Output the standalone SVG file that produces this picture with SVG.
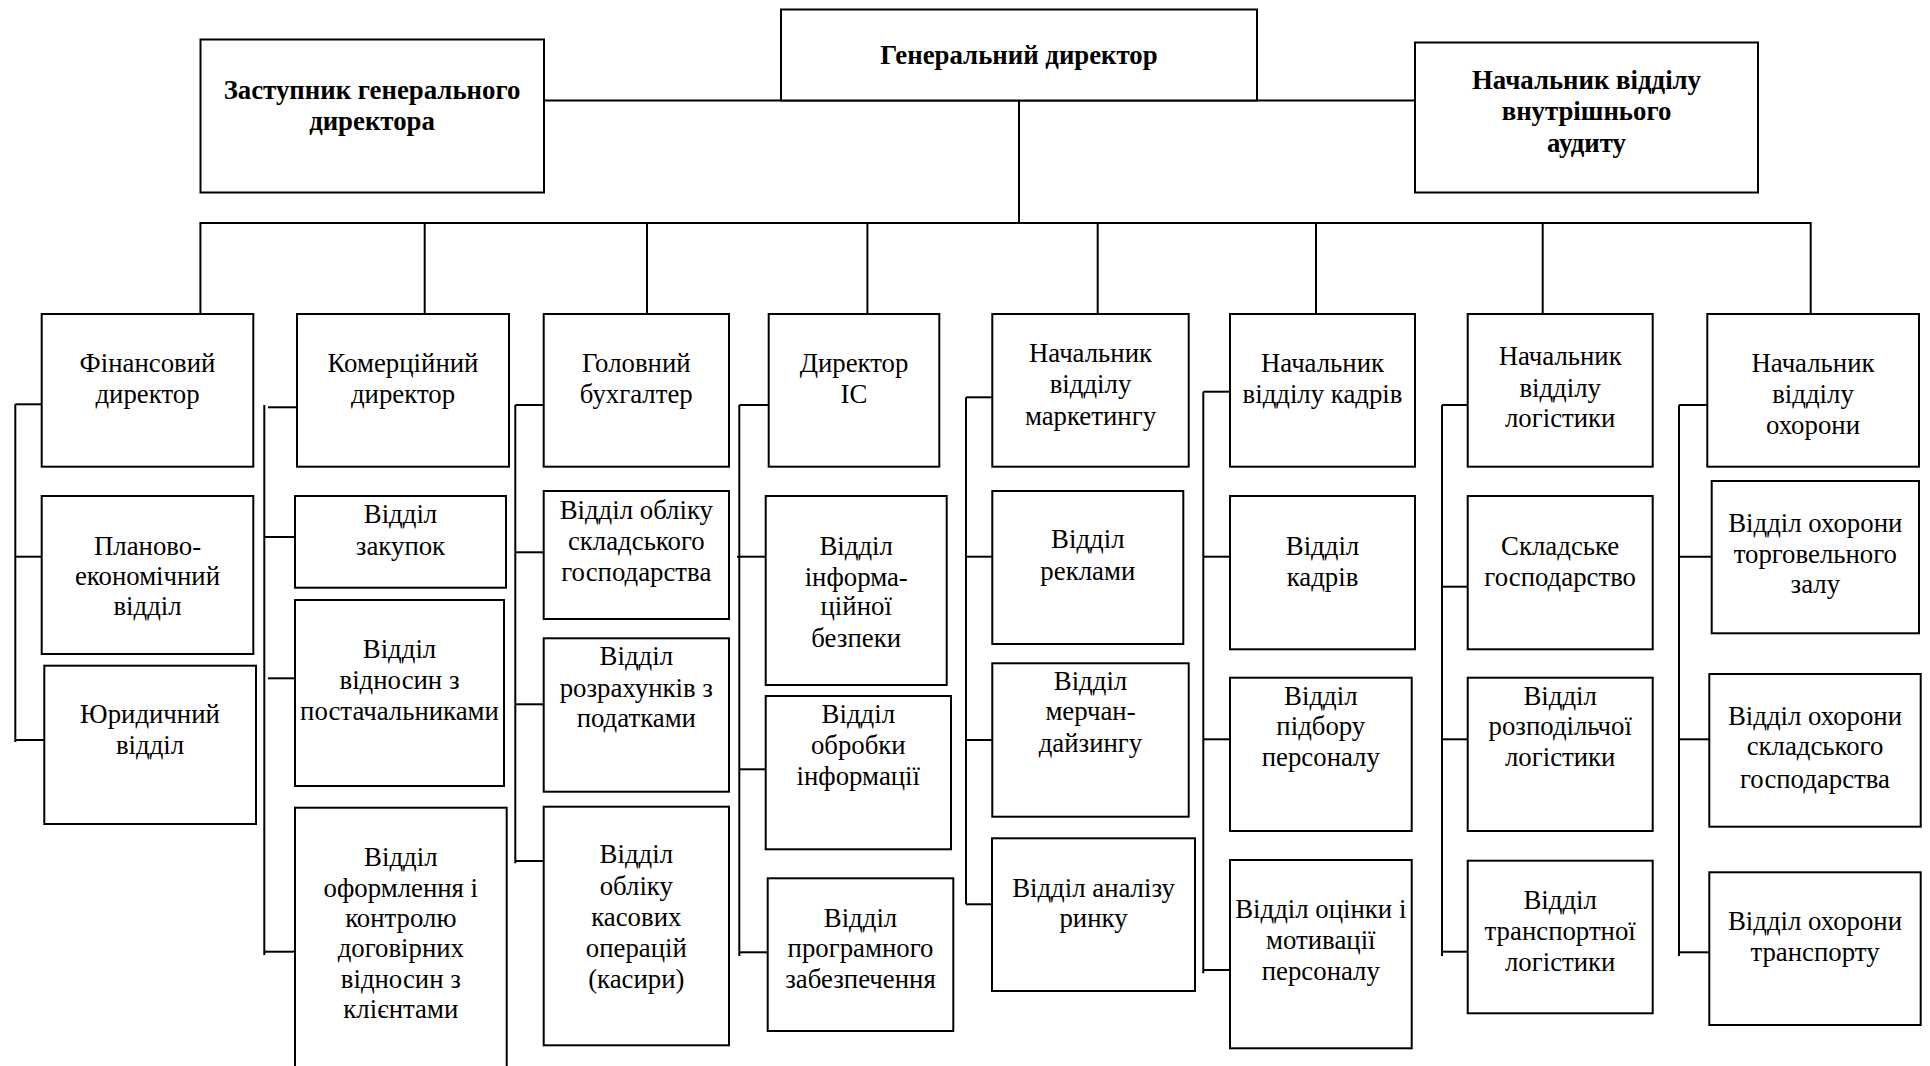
<svg xmlns="http://www.w3.org/2000/svg" width="1930" height="1066" viewBox="0 0 1930 1066">
<style>
rect.b{fill:#fff;stroke:#000;stroke-width:2}
line{stroke:#000;stroke-width:2}
text{font-family:"Liberation Serif","Times New Roman",serif;font-size:26.8px;text-anchor:middle;fill:#000}
text.h{font-weight:bold}
</style>
<rect width="1930" height="1066" fill="#fff"/>
<g id="connectors">
<line x1="544" y1="100.5" x2="1415" y2="100.5"/>
<line x1="1019" y1="100.5" x2="1019" y2="223"/>
<line x1="200.4" y1="223" x2="1810.7" y2="223"/>
<line x1="200.4" y1="222" x2="200.4" y2="314"/>
<line x1="424.7" y1="223" x2="424.7" y2="314"/>
<line x1="647" y1="223" x2="647" y2="314"/>
<line x1="867.4" y1="223" x2="867.4" y2="314"/>
<line x1="1097.7" y1="223" x2="1097.7" y2="314"/>
<line x1="1316" y1="223" x2="1316" y2="314"/>
<line x1="1542.7" y1="223" x2="1542.7" y2="314"/>
<line x1="1810.7" y1="222" x2="1810.7" y2="314"/>
<line x1="15.3" y1="404.3" x2="15.3" y2="742"/>
<line x1="15.3" y1="404.3" x2="41.7" y2="404.3"/>
<line x1="15.3" y1="556.7" x2="41.7" y2="556.7"/>
<line x1="15.3" y1="740" x2="44.3" y2="740"/>
<line x1="264.3" y1="405" x2="264.3" y2="955"/>
<line x1="268" y1="407.3" x2="297" y2="407.3"/>
<line x1="264.3" y1="537" x2="295" y2="537"/>
<line x1="268" y1="678.3" x2="295" y2="678.3"/>
<line x1="264.3" y1="951.7" x2="295" y2="951.7"/>
<line x1="515.3" y1="405" x2="515.3" y2="863.3"/>
<line x1="515.3" y1="405" x2="543.7" y2="405"/>
<line x1="515.3" y1="552.3" x2="543.7" y2="552.3"/>
<line x1="515.3" y1="704.3" x2="543.7" y2="704.3"/>
<line x1="515.3" y1="861" x2="543.7" y2="861"/>
<line x1="739.3" y1="405" x2="739.3" y2="956"/>
<line x1="739.3" y1="405" x2="768.7" y2="405"/>
<line x1="737" y1="556.7" x2="765.7" y2="556.7"/>
<line x1="739.3" y1="769.3" x2="765.7" y2="769.3"/>
<line x1="739.3" y1="952.3" x2="767.7" y2="952.3"/>
<line x1="966" y1="397.3" x2="966" y2="904.3"/>
<line x1="966" y1="397.3" x2="992.3" y2="397.3"/>
<line x1="966" y1="556.7" x2="992.3" y2="556.7"/>
<line x1="966" y1="740" x2="992.3" y2="740"/>
<line x1="966" y1="904.3" x2="992.3" y2="904.3"/>
<line x1="1203.3" y1="391.7" x2="1203.3" y2="973.3"/>
<line x1="1203.3" y1="391.7" x2="1230" y2="391.7"/>
<line x1="1203.3" y1="556.7" x2="1230" y2="556.7"/>
<line x1="1203.3" y1="739.3" x2="1230" y2="739.3"/>
<line x1="1203.3" y1="970" x2="1230" y2="970"/>
<line x1="1442" y1="405" x2="1442" y2="956"/>
<line x1="1442" y1="405" x2="1467.7" y2="405"/>
<line x1="1442" y1="586.7" x2="1467.7" y2="586.7"/>
<line x1="1442" y1="739.3" x2="1467.7" y2="739.3"/>
<line x1="1442" y1="951.7" x2="1467.7" y2="951.7"/>
<line x1="1679" y1="405" x2="1679" y2="956"/>
<line x1="1679" y1="405" x2="1707.3" y2="405"/>
<line x1="1679" y1="556.7" x2="1711.7" y2="556.7"/>
<line x1="1679" y1="739.3" x2="1709.3" y2="739.3"/>
<line x1="1679" y1="952.3" x2="1709.3" y2="952.3"/>
</g>
<g id="gd"><rect class="b" x="781" y="9.5" width="476" height="91"/><text class="h" x="1019" y="64">Генеральний директор</text></g>
<g id="zast"><rect class="b" x="200.5" y="39.5" width="343.5" height="153"/><text class="h" x="372"><tspan x="372" y="99">Заступник генерального</tspan><tspan x="372" y="130">директора</tspan></text></g>
<g id="audit"><rect class="b" x="1415" y="42.5" width="343" height="150"/><text class="h"><tspan x="1586.5" y="89">Начальник відділу</tspan><tspan x="1586.5" y="120">внутрішнього</tspan><tspan x="1586.5" y="151.7">аудиту</tspan></text></g>

<g id="fin"><rect class="b" x="41.7" y="314" width="211.6" height="152.7"/><text><tspan x="147.5" y="371.7">Фінансовий</tspan><tspan x="147.5" y="403.3">директор</tspan></text></g>
<g id="plan"><rect class="b" x="41.7" y="496" width="211.6" height="158"/><text><tspan x="147.5" y="555">Планово-</tspan><tspan x="147.5" y="585">економічний</tspan><tspan x="147.5" y="615">відділ</tspan></text></g>
<g id="yur"><rect class="b" x="44.3" y="665.7" width="211.7" height="158.3"/><text><tspan x="150" y="723.3">Юридичний</tspan><tspan x="150" y="754.3">відділ</tspan></text></g>

<g id="kom"><rect class="b" x="297" y="314" width="212" height="152.7"/><text><tspan x="403" y="371.7">Комерційний</tspan><tspan x="403" y="403.3">директор</tspan></text></g>
<g id="zak"><rect class="b" x="295" y="496" width="211" height="91.7"/><text><tspan x="400.5" y="523.3">Відділ</tspan><tspan x="400.5" y="555">закупок</tspan></text></g>
<g id="post"><rect class="b" x="295" y="600" width="209" height="186"/><text><tspan x="399.5" y="657.7">Відділ</tspan><tspan x="399.5" y="689">відносин з</tspan><tspan x="399.5" y="720">постачальниками</tspan></text></g>
<g id="dog"><rect class="b" x="295" y="807.7" width="211.7" height="270"/><text><tspan x="400.8" y="866">Відділ</tspan><tspan x="400.8" y="896.7">оформлення і</tspan><tspan x="400.8" y="926.7">контролю</tspan><tspan x="400.8" y="957.3">договірних</tspan><tspan x="400.8" y="988.3">відносин з</tspan><tspan x="400.8" y="1018.3">клієнтами</tspan></text></g>

<g id="gol"><rect class="b" x="543.7" y="314" width="185.3" height="152.7"/><text><tspan x="636.3" y="371.7">Головний</tspan><tspan x="636.3" y="403.3">бухгалтер</tspan></text></g>
<g id="skl"><rect class="b" x="543.7" y="491" width="185.3" height="128"/><text><tspan x="636.3" y="519.3">Відділ обліку</tspan><tspan x="636.3" y="550">складського</tspan><tspan x="636.3" y="580.7">господарства</tspan></text></g>
<g id="pod"><rect class="b" x="543.7" y="638.3" width="185.3" height="153.4"/><text><tspan x="636.3" y="665">Відділ</tspan><tspan x="636.3" y="697.3">розрахунків з</tspan><tspan x="636.3" y="726.7">податками</tspan></text></g>
<g id="kas"><rect class="b" x="543.7" y="806.7" width="185.3" height="238.6"/><text><tspan x="636.3" y="863.3">Відділ</tspan><tspan x="636.3" y="895">обліку</tspan><tspan x="636.3" y="925.7">касових</tspan><tspan x="636.3" y="956.7">операцій</tspan><tspan x="636.3" y="987.7">(касири)</tspan></text></g>

<g id="ic"><rect class="b" x="768.7" y="314" width="170.6" height="152.7"/><text><tspan x="854" y="371.7">Директор</tspan><tspan x="854" y="403.3">ІС</tspan></text></g>
<g id="bez"><rect class="b" x="765.7" y="496" width="181" height="189"/><text><tspan x="856.2" y="555">Відділ</tspan><tspan x="856.2" y="585.7">інформа-</tspan><tspan x="856.2" y="615">ційної</tspan><tspan x="856.2" y="646.7">безпеки</tspan></text></g>
<g id="obr"><rect class="b" x="765.7" y="696" width="185.3" height="153.3"/><text><tspan x="858.3" y="723.3">Відділ</tspan><tspan x="858.3" y="754">обробки</tspan><tspan x="858.3" y="785">інформації</tspan></text></g>
<g id="prog"><rect class="b" x="767.7" y="878.3" width="185.6" height="152.7"/><text><tspan x="860.5" y="926.7">Відділ</tspan><tspan x="860.5" y="957.3">програмного</tspan><tspan x="860.5" y="988.3">забезпечення</tspan></text></g>

<g id="mark"><rect class="b" x="992.3" y="314" width="196.4" height="152.7"/><text><tspan x="1090.5" y="361.7">Начальник</tspan><tspan x="1090.5" y="393.3">відділу</tspan><tspan x="1090.5" y="425">маркетингу</tspan></text></g>
<g id="rekl"><rect class="b" x="992.3" y="491" width="191" height="153"/><text><tspan x="1087.8" y="548.3">Відділ</tspan><tspan x="1087.8" y="580">реклами</tspan></text></g>
<g id="merch"><rect class="b" x="992.3" y="663.3" width="196.4" height="153.4"/><text><tspan x="1090.5" y="690">Відділ</tspan><tspan x="1090.5" y="720">мерчан-</tspan><tspan x="1090.5" y="751.7">дайзингу</tspan></text></g>
<g id="rynok"><rect class="b" x="992" y="838.3" width="203" height="152.7"/><text><tspan x="1093.5" y="896.7">Відділ аналізу</tspan><tspan x="1093.5" y="926.7">ринку</tspan></text></g>

<g id="kadr"><rect class="b" x="1230" y="314" width="185" height="152.7"/><text><tspan x="1322.5" y="371.7">Начальник</tspan><tspan x="1322.5" y="403.3">відділу кадрів</tspan></text></g>
<g id="vkadr"><rect class="b" x="1230" y="496" width="185" height="153.3"/><text><tspan x="1322.5" y="555">Відділ</tspan><tspan x="1322.5" y="586">кадрів</tspan></text></g>
<g id="pidb"><rect class="b" x="1230" y="677.7" width="181.7" height="153.3"/><text><tspan x="1320.8" y="705">Відділ</tspan><tspan x="1320.8" y="735">підбору</tspan><tspan x="1320.8" y="766">персоналу</tspan></text></g>
<g id="ocin"><rect class="b" x="1230" y="860" width="181.7" height="188.3"/><text><tspan x="1320.8" y="918.3">Відділ оцінки і</tspan><tspan x="1320.8" y="949.3">мотивації</tspan><tspan x="1320.8" y="980">персоналу</tspan></text></g>

<g id="log"><rect class="b" x="1467.7" y="314" width="185" height="152.7"/><text><tspan x="1560.2" y="365">Начальник</tspan><tspan x="1560.2" y="396.7">відділу</tspan><tspan x="1560.2" y="427.3">логістики</tspan></text></g>
<g id="sklad"><rect class="b" x="1467.7" y="496" width="185" height="153.3"/><text><tspan x="1560.2" y="555">Складське</tspan><tspan x="1560.2" y="586">господарство</tspan></text></g>
<g id="rozp"><rect class="b" x="1467.7" y="677.7" width="185" height="153.3"/><text><tspan x="1560.2" y="705">Відділ</tspan><tspan x="1560.2" y="735">розподільчої</tspan><tspan x="1560.2" y="766">логістики</tspan></text></g>
<g id="trl"><rect class="b" x="1467.7" y="860.7" width="185" height="152.6"/><text><tspan x="1560.2" y="909.3">Відділ</tspan><tspan x="1560.2" y="940">транспортної</tspan><tspan x="1560.2" y="971">логістики</tspan></text></g>

<g id="ohor"><rect class="b" x="1707.3" y="314" width="211.7" height="152.7"/><text><tspan x="1813" y="371.7">Начальник</tspan><tspan x="1813" y="403.3">відділу</tspan><tspan x="1813" y="434">охорони</tspan></text></g>
<g id="torg"><rect class="b" x="1711.7" y="481" width="207.3" height="152.3"/><text><tspan x="1815.3" y="531.7">Відділ охорони</tspan><tspan x="1815.3" y="562.7">торговельного</tspan><tspan x="1815.3" y="593.3">залу</tspan></text></g>
<g id="ohsk"><rect class="b" x="1709.3" y="674" width="211.4" height="152.7"/><text><tspan x="1815" y="725">Відділ охорони</tspan><tspan x="1815" y="755">складського</tspan><tspan x="1815" y="788.3">господарства</tspan></text></g>
<g id="ohtr"><rect class="b" x="1709.3" y="872.3" width="211.4" height="152.7"/><text><tspan x="1815" y="930">Відділ охорони</tspan><tspan x="1815" y="961">транспорту</tspan></text></g>
</svg>
